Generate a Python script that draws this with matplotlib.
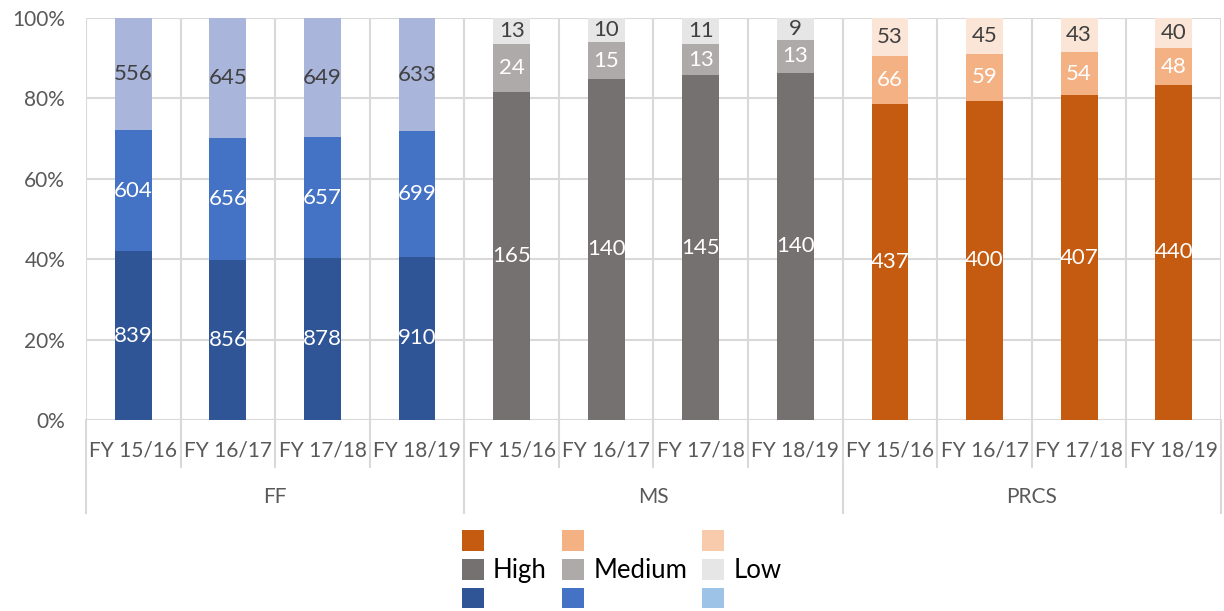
import matplotlib
matplotlib.use("Agg")
import matplotlib.pyplot as plt
from matplotlib.patches import Patch
from matplotlib.ticker import PercentFormatter
import numpy as np

plt.rcParams['font.family'] = ['Lato', 'DejaVu Sans']

# data
groups = ['FF', 'MS', 'PRCS']
years = ['FY 15/16', 'FY 16/17', 'FY 17/18', 'FY 18/19']
levels = ['High', 'Medium', 'Low']

ff_high = [839, 856, 878, 910]
ff_medium = [604, 656, 657, 699]
ff_low = [556, 645, 649, 633]

ms_high = [165, 140, 145, 140]
ms_medium = [24, 15, 13, 13]
ms_low = [13, 10, 11, 9]

prcs_high = [437, 400, 407, 440]
prcs_medium = [66, 59, 54, 48]
prcs_low = [53, 45, 43, 40]

# colours per group: high, medium, low
bar_colors = {
    'FF': ['#2F5597', '#4472C4', '#A9B5DA'],
    'MS': ['#767171', '#AEAAAA', '#E7E6E6'],
    'PRCS': ['#C55A11', '#F4B183', '#FBE5D6'],
}
legend_colors = {
    'FF': ['#2F5597', '#4472C4', '#9DC3E6'],
    'MS': ['#767171', '#AEAAAA', '#E7E6E6'],
    'PRCS': ['#C55A11', '#F4B183', '#F8CBAD'],
}
label_colors = ['white', 'white', '#404040']

high = np.array(ff_high + ms_high + prcs_high, dtype=float)
medium = np.array(ff_medium + ms_medium + prcs_medium, dtype=float)
low = np.array(ff_low + ms_low + prcs_low, dtype=float)
total = high + medium + low
series = [high, medium, low]

fig = plt.figure(figsize=(12.24, 6.11), dpi=100)
ax = fig.add_axes([86 / 1224, 1 - 420 / 611, (1221 - 86) / 1224, (420 - 18) / 611])

x = np.arange(len(high))
bottom = np.zeros(len(high))
for k, vals in enumerate(series):
    cols = []
    for g in groups:
        cols += [bar_colors[g][k]] * len(years)
    bars = ax.bar(x, vals / total, 0.39, bottom=bottom, color=cols, zorder=3)
    ax.bar_label(bars, labels=[str(int(v)) for v in vals], label_type='center',
                 color=label_colors[k], fontsize=16)
    bottom += vals / total

ax.set_xlim(-0.5, len(x) - 0.5)
ax.set_ylim(0, 1)
ax.set_yticks(np.arange(0, 1.01, 0.2))
ax.yaxis.set_major_formatter(PercentFormatter(1.0, decimals=0))
ax.set_xticks(np.arange(-0.5, len(x), 1), minor=False)
ax.set_xticklabels([])
ax.tick_params(axis='both', length=0)
ax.tick_params(axis='y', labelsize=15, labelcolor='#595959', pad=15)
ax.grid(True, color='#D9D9D9', linewidth=1.5, zorder=0)
for s in ax.spines.values():
    s.set_visible(False)

# category axis below the plot
trans = ax.get_xaxis_transform()
for i in range(len(x)):
    ax.text(i, -0.075, years[i % 4], transform=trans, ha='center', va='center',
            fontsize=15, color='#595959')
for j, g in enumerate(groups):
    ax.text(j * 4 + 1.5, -0.192, g, transform=trans, ha='center', va='center',
            fontsize=15, color='#595959')
for b in np.arange(-0.5, len(x), 1):
    depth = -0.232 if (b + 0.5) % 4 == 0 else -0.117
    ax.plot([b, b], [0, depth], transform=trans, color='#D9D9D9', lw=1.5,
            clip_on=False)

# legend: three colour rows, labels on the middle row
handles = []
labels = []
for k, lev in enumerate(levels):
    for g in ['PRCS', 'MS', 'FF']:
        handles.append(Patch(facecolor=legend_colors[g][k]))
        labels.append(lev if g == 'MS' else ' ')
fig.legend(handles, labels, ncol=3, loc='center', bbox_to_anchor=(0.508, 0.066),
           frameon=False, fontsize=18.5, handlelength=0.85, handleheight=0.85,
           labelspacing=0.15, handletextpad=0.35, columnspacing=0.6,
           borderpad=0.1)

fig.savefig('out.png', dpi=100)
